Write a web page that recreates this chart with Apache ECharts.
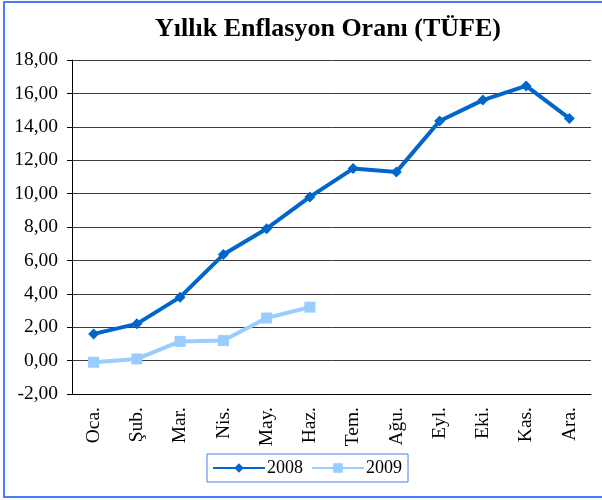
<html>
<head>
    <meta charset="UTF-8">
    <title>Yıllık Enflasyon Oranı</title>
    <script src="https://cdn.jsdelivr.net/npm/echarts@6/dist/echarts.min.js"></script>
    <style>
        body {
            padding: 0;
            margin: 0;
            overflow: hidden;
        }
        #chart {
            width: 602px;
            height: 500px;
        }
    </style>
</head>
<body>
<div id="chart"></div>

<script>
    const months = ['Oca.', 'Şub.', 'Mar.', 'Nis.', 'May.', 'Haz.', 'Tem.', 'Ağu.', 'Eyl.', 'Eki.', 'Kas.', 'Ara.'];
    const values2008 = [1.6, 2.2, 3.8, 6.35, 7.9, 9.8, 11.5, 11.3, 14.35, 15.6, 16.45, 14.5];
    const values2009 = [-0.1, 0.1, 1.15, 1.2, 2.55, 3.2];

    const serif = '"Liberation Serif", "DejaVu Serif", serif';
    const ec = echarts.init(document.getElementById('chart'));

    const option = {
        backgroundColor: '#fff',
        animation: false,
        title: {
            text: 'Yıllık Enflasyon Oranı (TÜFE)',
            left: 150,
            top: 11,
            textStyle: {
                fontFamily: serif,
                fontSize: 26,
                fontWeight: 'bold',
                color: '#000'
            }
        },
        graphic: [
            {
                type: 'rect',
                shape: {x: 4, y: 2, width: 620, height: 495},
                style: {fill: 'none', stroke: '#4a7ef2', lineWidth: 2},
                silent: true
            }
        ],
        legend: {
            left: 207,
            top: 454,
            padding: [5, 6, 5, 5],
            borderColor: '#4a7ef2',
            borderWidth: 1,
            itemWidth: 52,
            itemHeight: 12,
            itemGap: 8,
            textStyle: {
                fontFamily: serif,
                fontSize: 18,
                color: '#000',
                padding: [0, 0, 0, -3]
            },
            data: ['2008', '2009']
        },
        grid: {
            left: 72,
            right: 11,
            top: 60,
            bottom: 106,
            containLabel: false
        },
        xAxis: {
            type: 'category',
            data: months,
            boundaryGap: true,
            axisLine: {onZero: false, lineStyle: {color: '#000', width: 1}},
            axisTick: {show: false},
            axisLabel: {
                rotate: 90,
                margin: 13,
                interval: 0,
                fontFamily: serif,
                fontSize: 19.5,
                color: '#000'
            }
        },
        yAxis: {
            type: 'value',
            min: -2,
            max: 18,
            interval: 2,
            axisLine: {show: true, lineStyle: {color: '#000', width: 1}},
            axisTick: {show: true, length: 5, lineStyle: {color: '#000'}},
            splitLine: {lineStyle: {color: '#3a3a3a', width: 1}},
            axisLabel: {
                margin: 14,
                fontFamily: serif,
                fontSize: 19.5,
                color: '#000',
                formatter: v => v.toFixed(2).replace('.', ',')
            }
        },
        series: [
            {
                name: '2008',
                type: 'line',
                data: values2008,
                symbol: 'diamond',
                symbolSize: 11,
                lineStyle: {color: '#0066cc', width: 4},
                itemStyle: {color: '#0066cc'}
            },
            {
                name: '2009',
                type: 'line',
                data: values2009,
                symbol: 'rect',
                symbolSize: 11,
                lineStyle: {color: '#99ccff', width: 4},
                itemStyle: {color: '#99ccff'}
            }
        ]
    };
    ec.setOption(option);
</script>
</body>
</html>
